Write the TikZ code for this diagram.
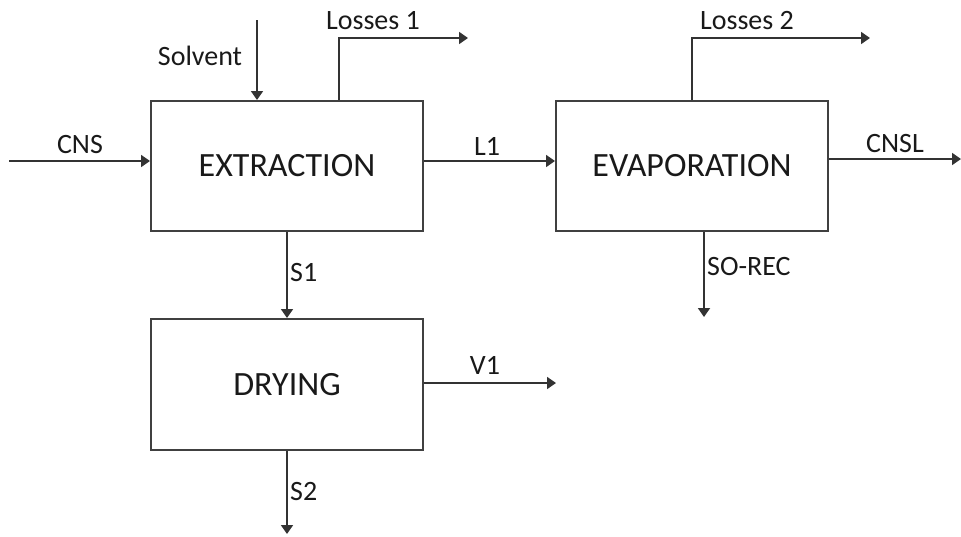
\documentclass[tikz,border=0pt]{standalone}
\usepackage{fontspec}
\setmainfont{Carlito}
\usetikzlibrary{arrows.meta}
\tikzset{
  procbox/.style={draw=black!75, line width=2pt, minimum width=272pt, minimum height=130pt, inner sep=0pt, font=\fontsize{34}{38}\selectfont, text=black!90},
  flow/.style={draw=black!80, line width=1.8pt, -{Triangle[length=9pt,width=12pt]}},
  lbl/.style={inner sep=0pt, font=\fontsize{28}{32}\selectfont, text=black!90, anchor=base},
  lbll/.style={lbl, anchor=base west}
}
\begin{document}
\begin{tikzpicture}[x=1pt,y=-1pt]
\useasboundingbox (0,0) rectangle (961,536);
% process boxes
\node[procbox] (ext) at (287,166) {EXTRACTION};
\node[procbox] (eva) at (692,166) {EVAPORATION};
\node[procbox, minimum height=131pt] (dry) at (287,384.5) {DRYING};
% free ends
\coordinate (cnsin) at (9,161);
\coordinate (solv) at (257,20);
\coordinate (los1up) at (339,38);
\coordinate (los1end) at (468,38);
\coordinate (los2up) at (692,38);
\coordinate (los2end) at (870,38);
\coordinate (cnslend) at (961,159);
\coordinate (sorecend) at (704,317);
\coordinate (v1end) at (556,383);
\coordinate (s2end) at (287,534);
% connectors
\draw[flow] (cnsin) -- (cnsin -| ext.west);
\draw[flow] (solv) -- (solv |- ext.north);
\draw[flow] (los1up |- ext.north) -- (los1up) -- (los1end);
\draw[flow] (ext.east |- cnsin) -- (eva.west |- cnsin);
\draw[flow] (los2up |- eva.north) -- (los2up) -- (los2end);
\draw[flow] (eva.east |- cnslend) -- (cnslend);
\draw[flow] (sorecend |- eva.south) -- (sorecend);
\draw[flow] (ext.south) -- (dry.north);
\draw[flow] (dry.east |- v1end) -- (v1end);
\draw[flow] (dry.south) -- (s2end);
% labels
\node[lbl] (lcns) at (80,153) {CNS};
\node[lbl] (lsolv) at (200,65) {Solvent};
\node[lbl] (llos1) at (373,29.5) {Losses 1};
\node[lbl] (llos2) at (747,29.5) {Losses 2};
\node[lbl] (ll1) at (487,155) {L1};
\node[lbl] (lcnsl) at (895,152) {CNSL};
\node[lbll] (lsorec) at (707,275) {SO-REC};
\node[lbll] (ls1) at (290,281) {S1};
\node[lbl] (lv1) at (485,374) {V1};
\node[lbll] (ls2) at (290,500) {S2};
\end{tikzpicture}
\end{document}
